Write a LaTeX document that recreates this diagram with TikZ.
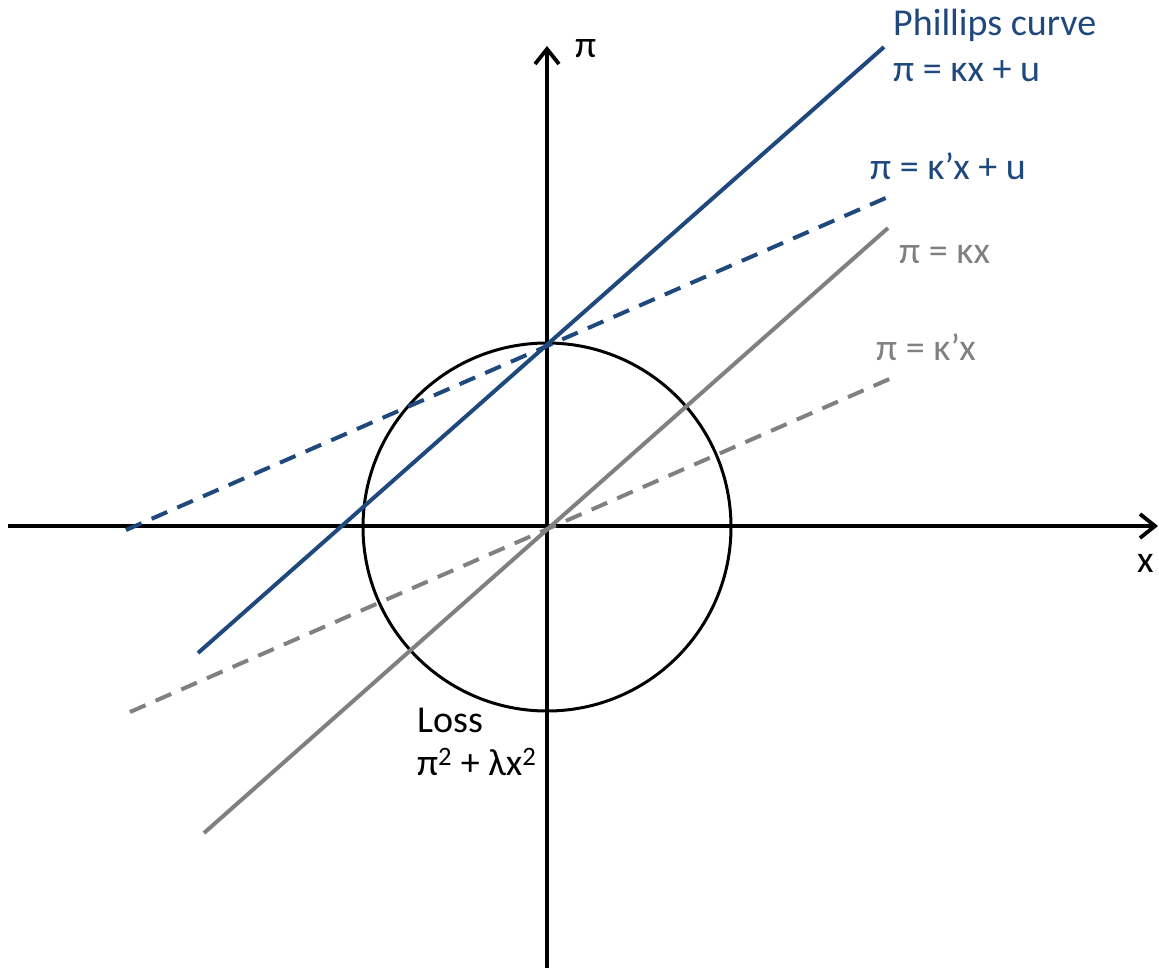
\documentclass[tikz,border=0pt]{standalone}
\usepackage{fontspec}
\setmainfont{Carlito}
\usetikzlibrary{arrows.meta}
\definecolor{pblue}{HTML}{1F497D}
\definecolor{pgray}{HTML}{808080}
\tikzset{
  axis/.style={line width=3.8pt, black, -{Straight Barb[length=15pt,width=24pt,line width=3.8pt]}},
  lbl/.style={anchor=base west, inner sep=0pt, font=\fontsize{38}{44}\selectfont},
  bluel/.style={line width=4pt, pblue},
  grayl/.style={line width=4pt, pgray},
  dsh/.style={dash pattern=on 17pt off 11pt},
}
\begin{document}
\begin{tikzpicture}[x=1pt,y=-1pt]
\useasboundingbox (0,0) rectangle (1159,971);
% axes
\coordinate (xl) at (8,526);
\coordinate (xr) at (1158,526);
\coordinate (yb) at (547,968);
\coordinate (yt) at (547,46);
\draw[axis] (xl) -- (xr);
\draw[axis] (yb) -- (yt);
% circle
\node[draw, circle, line width=3pt, minimum size=368pt, inner sep=0pt] (loss) at (547,527) {};
% lines
\coordinate (b1) at (198,653); \coordinate (b2) at (884,47);
\coordinate (bd1) at (126,530); \coordinate (bd2) at (888,197);
\coordinate (g1) at (204,833); \coordinate (g2) at (888,228);
\coordinate (gd1) at (130,712); \coordinate (gd2) at (894,377);
\draw[bluel] (b1) -- (b2);
\draw[bluel, dsh] (bd1) -- (bd2);
\draw[grayl] (g1) -- (g2);
\draw[grayl, dsh] (gd1) -- (gd2);
% labels
\node[lbl, pblue] (pc) at (893,36) {Phillips curve};
\node[lbl, pblue] (pc2) at (893,82) {π = κx + u};
\node[lbl, pblue] (pd) at (870,179) {π = κ’x + u};
\node[lbl, pgray] (g) at (899,263) {π = κx};
\node[lbl, pgray] (gd) at (876,360) {π = κ’x};
\node[lbl] (pi) at (575,58) {π};
\node[lbl] (xx) at (1137,572) {x};
\node[lbl] (l1) at (417,732) {Loss};
\node[lbl] (l2) at (417,775) {π\textsuperscript{2} + λx\textsuperscript{2}};
\end{tikzpicture}
\end{document}
